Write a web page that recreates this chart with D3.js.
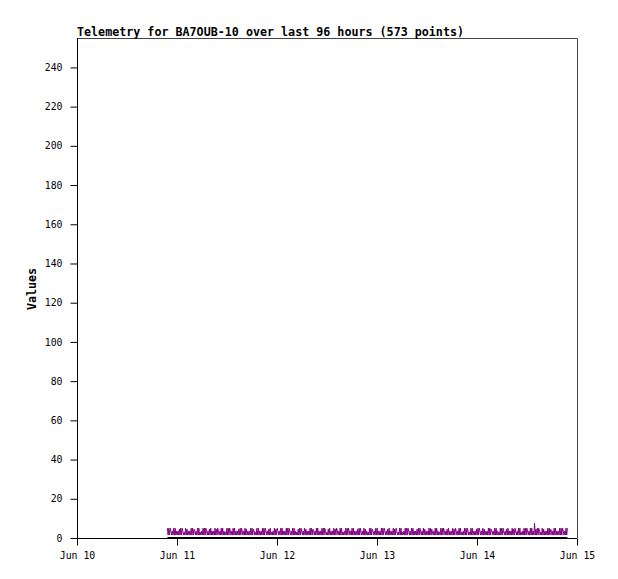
<!DOCTYPE html>
<html>
<head>
<meta charset="utf-8">
<script src="https://cdn.jsdelivr.net/npm/d3@7"></script>
<style>
  html, body { margin: 0; padding: 0; background: #fff; }
  svg { display: block; }
</style>
</head>
<body>
<svg id="chart" width="618" height="579"></svg>
<script>
// ---- data ----
const titleText = "Telemetry for BA7OUB-10 over last 96 hours (573 points)";
const yLabel = "Values";
const xDomain = ["2024-06-10T00:00:00", "2024-06-15T00:00:00"];
const xTickDates = ["2024-06-10", "2024-06-11", "2024-06-12", "2024-06-13", "2024-06-14", "2024-06-15"];
const xTickLabels = ["Jun 10", "Jun 11", "Jun 12", "Jun 13", "Jun 14", "Jun 15"];
const yTicks = [0, 20, 40, 60, 80, 100, 120, 140, 160, 180, 200, 220, 240];
const yMax = 255;
const seriesStart = "2024-06-10T21:42:00";
const seriesEnd = "2024-06-14T21:42:00";
// channel values (purple), one per sample, evenly spaced over the 96 hours
const purpleValues = [
5,1.5,5,1.5,5,3.5,1.5,3.5,1.5, 5,1.5,5,1.5,3.5,1.5,3.5,1.5,
4.5,1.5,5,1.5,5,3.5,1.5,3,1.5, 5,1.5,4.5,1.5,3.5,1.5,3.5,1.5,
5,1.5,5,1.5,4.5,3.5,1.5,3.5,1.5, 5,1.5,5,1.5,3,1.5,3.5,1.5,
5,1.5,5,1.5,5,3.5,1.5,3.5,1.5, 4.5,1.5,5,1.5,3.5,1.5,3.5,1.5,
5,1.5,4.5,1.5,5,3,1.5,3.5,1.5, 5,1.5,5,1.5,3.5,1.5,3,1.5,
5,1.5,5,1.5,5,3.5,1.5,3.5,1.5, 5,1.5,5,1.5,3.5,1.5,3.5,1.5,
4.5,1.5,5,1.5,5,3.5,1.5,3.5,1.5, 5,1.5,4.5,1.5,3.5,1.5,3.5,1.5,
5,1.5,5,1.5,4.5,3.5,1.5,3,1.5, 5,1.5,5,1.5,3.5,1.5,3.5,1.5,
5,1.5,5,1.5,5,3.5,1.5,3.5,1.5, 4.5,1.5,5,1.5,3,1.5,3.5,1.5,
5,1.5,4.5,1.5,5,3.5,1.5,3.5,1.5, 5,1.5,5,1.5,3.5,1.5,3.5,1.5,
5,1.5,5,1.5,5,3,1.5,3.5,1.5, 5,1.5,5,1.5,3.5,1.5,3,1.5,
4.5,1.5,5,1.5,5,3.5,1.5,3.5,1.5, 5,1.5,4.5,1.5,3.5,1.5,3.5,1.5,
5,1.5,5,1.5,4.5,3.5,1.5,3.5,1.5, 5,1.5,5,1.5,3.5,1.5,3.5,1.5,
5,1.5,5,1.5,5,3.5,1.5,3,1.5, 4.5,1.5,5,1.5,3.5,1.5,3.5,1.5,
5,1.5,4.5,1.5,5,3.5,1.5,3.5,1.5, 5,1.5,5,1.5,3,1.5,3.5,1.5,
5,1.5,5,1.5,5,3.5,1.5,3.5,1.5, 5,1.5,5,1.5,3.5,1.5,3.5,1.5,
4.5,1.5,5,1.5,5,3,1.5,3.5,1.5, 5,1.5,4.5,1.5,3.5,1.5,3,1.5,
5,1.5,5,1.5,4.5,3.5,1.5,3.5,1.5, 5,1.5,5,1.5,3.5,1.5,3.5,1.5,
5,1.5,5,1.5,5,3.5,1.5,3.5,1.5, 4.5,1.5,5,1.5,3.5,1.5,3.5,1.5,
5,1.5,4.5,1.5,5,3.5,1.5,3,1.5, 5,1.5,5,1.5,3,1.5,3.5,1.5,
5,1.5,5,1.5,5,3.5,1.5,3.5,1.5, 5,1.5,5,1.5,3.5,1.5,3.5,1.5,
4.5,1.5,5,1.5,5,3.5,1.5,3.5,1.5, 5,1.5,4.5,1.5,3.5,1.5,3.5,1.5,
5,1.5,5,1.5,4.5,3,1.5,3.5,1.5, 5,1.5,5,1.5,3.5,1.5,3,1.5,
5,1.5,5,1.5,5,3.5,1.5,3.5,1.5, 4.5,1.5,5,1.5,3.5,1.5,3.5,1.5,
5,1.5,4.5,1.5,5,3.5,1.5,3.5,1.5, 5,1.5,5,1.5,3,1.5,3.5,1.5,
5,1.5,5,1.5,5,3.5,1.5,3,1.5, 5,1.5,5,1.5,3.5,1.5,3.5,1.5,
4.5,1.5,5,1.5,5,3.5,1.5,3.5,1.5, 5,1.5,4.5,1.5,3.5,1.5,3.5,1.5,
5,1.5,5,1.5,4.5,3.5,1.5,3.5,1.5, 5,1.5,5,1.5,3.5,1.5,3,1.5,
5,1.5,5,1.5,5,3,1.5,3.5,1.5, 4.5,1.5,5,1.5,3.5,1.5,3.5,1.5,
5,1.5,4.5,1.5,5,3.5,1.5,3.5,1.5, 5,1.5,5,1.5,3,1.5,3.5,1.5,
5,1.5,5,1.5,5,3.5,1.5,3.5,1.5, 5,1.5,5,1.5,3.5,1.5,7.5,1.5,
4.5,1.5,5,1.5,5,3.5,1.5,3,1.5, 5,1.5,4.5,1.5,3.5,1.5,3.5,1.5,
5,1.5,5,1.5,4.5,3.5,1.5,3.5,1.5, 5,1.5,5,1.5,3.5,1.5,3.5,1.5,
5,1.5,5,1.5,5,3.5,1.5,3.5,1.5, 5,1.5,5
];
// second channel (black) stays at 0 for the whole period
const blackValues = [0, 0];

// ---- layout ----
const svg = d3.select("#chart");
const margin = { left: 77, top: 38, right: 41, bottom: 41 };
const W = 618, H = 579;
const plotW = W - margin.left - margin.right;
const plotH = H - margin.top - margin.bottom;
const monoFont = "'DejaVu Sans Mono', 'Liberation Mono', monospace";

const x = d3.scaleTime()
  .domain(xDomain.map(d => new Date(d)))
  .range([margin.left, margin.left + plotW]);
const y = d3.scaleLinear()
  .domain([0, yMax])
  .range([margin.top + plotH, margin.top]);

const t0 = new Date(seriesStart).getTime();
const t1 = new Date(seriesEnd).getTime();
const purple = purpleValues.map((v, i) => ({
  t: new Date(t0 + (t1 - t0) * i / (purpleValues.length - 1)), v
}));
const black = blackValues.map((v, i) => ({
  t: new Date(t0 + (t1 - t0) * i / (blackValues.length - 1)), v
}));

// frame (top & right)
svg.append("path")
  .attr("d", `M${margin.left},${margin.top + 0.5}H${margin.left + plotW + 0.5}V${margin.top + plotH}`)
  .attr("fill", "none").attr("stroke", "#444").attr("stroke-width", 1);

const line = d3.line().x(d => x(d.t)).y(d => y(d.v));

svg.append("path").datum(purple)
  .attr("d", line)
  .attr("fill", "none").attr("stroke", "#800080").attr("stroke-width", 1);

// axes
const yAxis = d3.axisLeft(y).tickValues(yTicks).tickSize(7).tickPadding(8);
const gy = svg.append("g").attr("transform", `translate(${margin.left + 0.5},0)`).call(yAxis);
const xAxis = d3.axisBottom(x)
  .tickValues(xTickDates.map(d => new Date(d + "T00:00:00")))
  .tickFormat((d, i) => xTickLabels[i]).tickSize(7).tickPadding(7);
const gx = svg.append("g").attr("transform", `translate(0,${margin.top + plotH + 0.5})`).call(xAxis);

[gx, gy].forEach(g => {
  g.select(".domain").remove();
  g.selectAll(".tick line").attr("stroke", "#000");
  g.selectAll(".tick text").attr("fill", "#000")
    .style("font-family", monoFont).style("font-size", "9.8px");
});
gy.append("line").attr("x1", 0).attr("x2", 0).attr("y1", margin.top).attr("y2", margin.top + plotH).attr("stroke", "#000");
gx.append("line").attr("x1", margin.left).attr("x2", margin.left + plotW).attr("y1", 0).attr("y2", 0).attr("stroke", "#000");

// black channel over the axis
svg.append("path").datum(black)
  .attr("d", line)
  .attr("fill", "none").attr("stroke", "#000").attr("stroke-width", 2);

// title
svg.append("text")
  .attr("x", margin.left).attr("y", 35.5)
  .style("font-family", monoFont).style("font-size", "11.7px").style("font-weight", "bold")
  .text(titleText);

// y label
svg.append("text")
  .attr("transform", `translate(36,${margin.top + plotH / 2 + 1}) rotate(-90)`)
  .attr("text-anchor", "middle")
  .style("font-family", monoFont).style("font-size", "11.7px").style("font-weight", "bold")
  .text(yLabel);
</script>
</body>
</html>
